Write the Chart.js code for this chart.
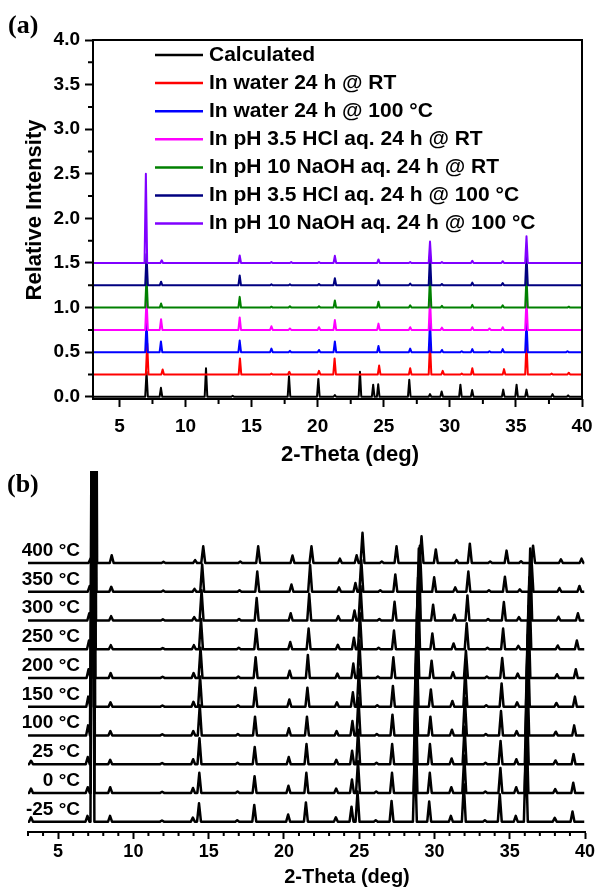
<!DOCTYPE html>
<html lang="en">
<head>
<meta charset="UTF-8" />
<title>PXRD patterns</title>
<script src="https://cdn.jsdelivr.net/npm/chart.js"></script>
<style>
  body { margin: 0; background: #fff; }
  .wrap { position: relative; width: 595px; height: 890px; }
  #chartA { position: absolute; left: 0; top: 0; }
  #chartB { position: absolute; left: 0; top: 460px; }
</style>
</head>
<body>
<div class="wrap">
  <canvas id="chartA" width="595" height="470"></canvas>
  <canvas id="chartB" width="595" height="430"></canvas>
</div>
<script>
// ---------- panel (a): stability in solvents ----------
const seriesNamesA = [
  "Calculated",
  "In water 24 h @ RT",
  "In water 24 h @ 100 °C",
  "In pH 3.5 HCl aq. 24 h @ RT",
  "In pH 10 NaOH aq. 24 h @ RT",
  "In pH 3.5 HCl aq. 24 h @ 100 °C",
  "In pH 10 NaOH aq. 24 h @ 100 °C",
];
const offsetsA = [0, 0.25, 0.5, 0.75, 1.0, 1.25, 1.5];

// [2-theta, height above own baseline]
const peaksCalc = [[7.05,0.28],[8.14,0.1],[11.55,0.32],[13.57,0.012],[17.83,0.23],[20.05,0.2],[21.3,0.02],[23.2,0.28],[24.2,0.135],[24.58,0.14],[26.93,0.19],[28.5,0.03],[29.38,0.06],[30.8,0.135],[31.69,0.075],[34.04,0.08],[35.05,0.135],[35.8,0.08],[37.77,0.03],[38.95,0.015]];
const peaksWaterRT = [[7.1,0.35],[8.27,0.056],[14.12,0.18],[16.5,0.01],[17.85,0.03],[20.1,0.04],[21.28,0.18],[24.65,0.1],[27.0,0.07],[28.5,0.35],[29.46,0.04],[30.9,0.01],[31.7,0.07],[34.1,0.06],[35.8,0.35],[37.7,0.01],[39.0,0.02]];
const peaksWater100 = [[7.05,0.35],[8.14,0.12],[14.1,0.13],[16.5,0.04],[17.9,0.015],[20.1,0.025],[21.3,0.12],[24.6,0.07],[27.0,0.04],[28.5,0.35],[29.4,0.025],[30.9,0.01],[31.7,0.035],[33.0,0.01],[34.0,0.035],[35.8,0.35],[38.9,0.01]];
const peaksHclRT = [[7.05,0.35],[8.15,0.12],[14.1,0.14],[16.5,0.04],[17.9,0.015],[20.1,0.03],[21.3,0.11],[24.6,0.07],[27.0,0.03],[28.5,0.35],[29.4,0.025],[31.7,0.03],[33.0,0.015],[34.0,0.03],[35.8,0.35]];
const peaksNaohRT = [[7.05,0.35],[8.15,0.045],[14.1,0.12],[16.5,0.01],[17.9,0.015],[20.1,0.015],[21.3,0.08],[24.6,0.065],[27.0,0.025],[28.5,0.35],[29.4,0.02],[31.7,0.03],[34.0,0.025],[35.8,0.35],[39.0,0.01]];
const peaksHcl100 = [[7.05,0.35],[8.15,0.04],[14.1,0.11],[16.5,0.01],[17.9,0.01],[20.1,0.015],[21.3,0.08],[24.6,0.055],[27.0,0.02],[28.5,0.35],[29.4,0.015],[31.7,0.03],[34.0,0.025],[35.8,0.35]];
const peaksNaoh100 = [[7.0,1.0],[8.2,0.03],[14.1,0.085],[16.5,0.01],[18.0,0.01],[20.1,0.01],[21.3,0.08],[24.6,0.04],[27.0,0.01],[28.5,0.24],[29.4,0.01],[31.7,0.025],[34.0,0.02],[35.8,0.3]];

const xTicksA = [5, 10, 15, 20, 25, 30, 35, 40];
const xMinorA = [7.5, 12.5, 17.5, 22.5, 27.5, 32.5, 37.5];
const yTicksA = [0, 0.5, 1, 1.5, 2, 2.5, 3, 3.5, 4];
const yMinorA = [0.25, 0.75, 1.25, 1.75, 2.25, 2.75, 3.25, 3.75];

// ---------- panel (b): variable temperature ----------
const tempLabels = ["-25 °C", "0 °C", "25 °C", "100 °C", "150 °C", "200 °C", "250 °C", "300 °C", "350 °C", "400 °C"];
const offsetsB = [0, 1, 2, 3, 4, 5, 6, 7, 8, 9];

const peaksM25 = [[3.2,0.15],[6.95,0.2],[7.28,20],[8.45,0.2],[11.9,0.04],[13.95,0.14],[14.36,0.64],[16.9,0.05],[18.03,0.58],[20.28,0.25],[21.46,0.67],[23.45,0.15],[24.49,0.52],[24.89,1.05],[26.1,0.05],[27.15,0.72],[28.7,2.5],[29.65,0.7],[31.09,0.2],[31.95,1.3],[33.35,0.05],[34.34,0.95],[35.4,0.2],[36.07,2.5],[37.99,0.13],[39.17,0.35]];
const peaks0 = [[3.2,0.15],[6.97,0.2],[7.29,20],[8.46,0.2],[11.91,0.04],[13.96,0.17],[14.38,0.7],[16.92,0.05],[18.05,0.58],[20.3,0.25],[21.49,0.7],[23.47,0.15],[24.52,0.47],[24.92,1.1],[26.13,0.05],[27.18,0.7],[28.74,2.5],[29.69,0.7],[31.12,0.2],[31.98,1.3],[33.38,0.05],[34.38,0.87],[35.43,0.2],[36.11,2.5],[38.02,0.13],[39.22,0.35]];
const peaks25 = [[3.2,0.12],[6.97,0.25],[7.3,20],[8.46,0.15],[11.91,0.04],[13.97,0.17],[14.39,0.9],[16.92,0.05],[18.06,0.6],[20.32,0.25],[21.5,0.7],[23.48,0.15],[24.53,0.47],[24.93,1.2],[26.15,0.05],[27.19,0.7],[28.75,2.5],[29.7,0.7],[31.14,0.2],[32.0,1.3],[33.39,0.05],[34.39,0.81],[35.44,0.17],[36.13,2.5],[38.04,0.13],[39.24,0.35]];
const peaks100 = [[6.99,0.35],[7.31,20],[8.47,0.15],[11.92,0.04],[13.98,0.15],[14.41,1.05],[16.94,0.05],[18.08,0.65],[20.33,0.25],[21.53,0.65],[23.5,0.15],[24.55,0.5],[24.95,1.3],[26.17,0.05],[27.21,0.72],[28.78,2.5],[29.73,0.65],[31.16,0.2],[32.02,1.3],[33.41,0.05],[34.42,0.85],[35.46,0.15],[36.16,2.5],[38.06,0.13],[39.28,0.35]];
const peaks150 = [[7.0,0.35],[7.33,20],[8.48,0.15],[11.93,0.04],[13.99,0.17],[14.43,1.05],[16.95,0.05],[18.1,0.66],[20.36,0.25],[21.56,0.66],[23.52,0.15],[24.58,0.5],[24.98,1.3],[26.2,0.05],[27.24,0.72],[28.81,2.5],[29.76,0.6],[31.19,0.2],[32.05,1.3],[33.44,0.05],[34.46,0.81],[35.49,0.15],[36.2,2.5],[38.1,0.13],[39.33,0.35]];
const peaks200 = [[7.02,0.3],[7.35,20],[8.49,0.17],[11.94,0.04],[14.0,0.17],[14.46,1.05],[16.97,0.05],[18.12,0.72],[20.38,0.25],[21.59,0.8],[23.55,0.15],[24.61,0.5],[25.01,1.3],[26.24,0.05],[27.27,0.72],[28.86,2.5],[29.81,0.6],[31.23,0.2],[32.09,0.95],[33.48,0.05],[34.5,0.69],[35.53,0.15],[36.24,2.5],[38.14,0.13],[39.39,0.3]];
const peaks250 = [[7.05,0.3],[7.37,20],[8.5,0.14],[11.95,0.04],[14.02,0.14],[14.49,1.05],[17.0,0.05],[18.16,0.7],[20.42,0.25],[21.64,0.72],[23.58,0.15],[24.65,0.4],[25.05,1.25],[26.29,0.05],[27.31,0.65],[28.91,2.5],[29.86,0.55],[31.27,0.2],[32.14,0.9],[33.52,0.05],[34.56,0.72],[35.57,0.12],[36.3,2.5],[38.19,0.13],[39.46,0.3]];
const peaks300 = [[7.07,0.25],[7.39,20],[8.52,0.15],[11.96,0.04],[14.04,0.12],[14.53,1.05],[17.02,0.05],[18.19,0.78],[20.45,0.25],[21.68,0.93],[23.61,0.15],[24.69,0.35],[25.09,1.2],[26.34,0.05],[27.35,0.65],[28.96,2.5],[29.91,0.55],[31.32,0.2],[32.19,0.87],[33.56,0.05],[34.61,0.64],[35.61,0.12],[36.36,2.5],[38.24,0.13],[39.53,0.25]];
const peaks350 = [[7.1,0.2],[7.42,20],[8.53,0.17],[11.98,0.04],[14.06,0.1],[14.57,0.95],[17.05,0.05],[18.23,0.7],[20.5,0.25],[21.74,0.93],[23.66,0.15],[24.75,0.3],[25.14,1.1],[26.4,0.05],[27.4,0.6],[29.03,1.6],[29.98,0.5],[31.38,0.15],[32.25,0.7],[33.62,0.05],[34.68,0.52],[35.67,0.08],[36.44,1.2],[38.3,0.13],[39.63,0.2]];
const peaks400 = [[7.15,0.15],[7.46,20],[8.56,0.27],[12.0,0.04],[14.1,0.1],[14.64,0.58],[17.1,0.05],[18.29,0.58],[20.57,0.26],[21.83,0.58],[23.72,0.15],[24.83,0.27],[25.22,1.05],[26.5,0.05],[27.48,0.58],[29.14,0.93],[30.09,0.47],[31.47,0.1],[32.35,0.67],[33.7,0.05],[34.79,0.43],[35.75,0.06],[36.55,0.6],[38.4,0.13],[39.77,0.15]];

const xTicksB = [5, 10, 15, 20, 25, 30, 35, 40];
const xMinorB = [3,4,6,7,8,9,11,12,13,14,16,17,18,19,21,22,23,24,26,27,28,29,31,32,33,34,36,37,38,39];

// ---------- styles ----------
const colorsA = ["#000000", "#ff0000", "#0000ff", "#ff00ff", "#008000", "#000080", "#8000ff"];
const SANS = "'Liberation Sans', Arial, sans-serif";
const SERIF = "'Liberation Serif', 'Times New Roman', serif";

// each peak drawn as a narrow spike standing on the trace baseline
function spikes(peaks, base, halfW, x0, x1) {
  const pts = [{ x: x0, y: base }];
  peaks.forEach(([p, h]) => {
    pts.push({ x: p - halfW, y: base }, { x: p, y: base + h }, { x: p + halfW, y: base });
  });
  pts.push({ x: x1, y: base });
  return pts;
}

function noPad(s) {
  s.paddingLeft = 0; s.paddingRight = 0; s.paddingTop = 0; s.paddingBottom = 0;
}

const decorA = {
  id: "decorA",
  afterDraw(chart) {
    const { ctx, chartArea: a, scales: { x, y } } = chart;
    ctx.save();
    ctx.strokeStyle = "#000";
    ctx.lineWidth = 2;
    ctx.strokeRect(a.left, a.top, a.right - a.left, a.bottom - a.top);
    ctx.beginPath();
    xMinorA.forEach(v => { const px = x.getPixelForValue(v); ctx.moveTo(px, a.bottom); ctx.lineTo(px, a.bottom + 5); });
    yMinorA.forEach(v => { const py = y.getPixelForValue(v); ctx.moveTo(a.left, py); ctx.lineTo(a.left - 5, py); });
    ctx.stroke();

    // legend
    ctx.font = "bold 21px " + SANS;
    ctx.textBaseline = "middle";
    ctx.textAlign = "left";
    chart.data.datasets.forEach((ds, i) => {
      const ly = 55 + i * 28.1;
      ctx.strokeStyle = ds.borderColor;
      ctx.lineWidth = 2.5;
      ctx.beginPath(); ctx.moveTo(155, ly); ctx.lineTo(203, ly); ctx.stroke();
      ctx.fillStyle = "#000";
      ctx.fillText(ds.label, 209, ly);
    });

    // axis titles
    ctx.fillStyle = "#000";
    ctx.font = "bold 22px " + SANS;
    ctx.textAlign = "center";
    ctx.textBaseline = "alphabetic";
    ctx.fillText("2-Theta (deg)", 350, 461);
    ctx.save();
    ctx.translate(41, 210);
    ctx.rotate(-Math.PI / 2);
    ctx.fillText("Relative Intensity", 0, 0);
    ctx.restore();

    ctx.font = "bold 26px " + SERIF;
    ctx.textAlign = "left";
    ctx.fillText("(a)", 8, 33);
    ctx.restore();
  },
};

const decorB = {
  id: "decorB",
  afterDraw(chart) {
    const { ctx, chartArea: a, scales: { x, y } } = chart;
    ctx.save();
    ctx.strokeStyle = "#000";
    ctx.lineWidth = 2;
    ctx.beginPath();
    xMinorB.forEach(v => { const px = x.getPixelForValue(v); ctx.moveTo(px, a.bottom); ctx.lineTo(px, a.bottom + 4); });
    ctx.stroke();

    ctx.fillStyle = "#000";
    ctx.font = "bold 19px " + SANS;
    ctx.textAlign = "right";
    ctx.textBaseline = "alphabetic";
    tempLabels.forEach((t, i) => {
      ctx.fillText(t, 80, y.getPixelForValue(offsetsB[i]) - 7);
    });

    ctx.font = "bold 20px " + SANS;
    ctx.textAlign = "center";
    ctx.fillText("2-Theta (deg)", 347, 423);

    ctx.font = "bold 26px " + SERIF;
    ctx.textAlign = "left";
    ctx.fillText("(b)", 7, 32);
    ctx.restore();
  },
};

const peaksA = [peaksCalc, peaksWaterRT, peaksWater100, peaksHclRT, peaksNaohRT, peaksHcl100, peaksNaoh100];

new Chart(document.getElementById("chartA"), {
  type: "line",
  data: {
    datasets: peaksA.map((pk, i) => ({
      label: seriesNamesA[i],
      data: spikes(pk, offsetsA[i], 0.1, 3, 40),
      borderColor: colorsA[i],
      borderWidth: 2,
      borderJoinStyle: "round",
      pointRadius: 0,
      tension: 0,
      order: peaksA.length - i,
    })),
  },
  options: {
    responsive: false,
    animation: false,
    events: [],
    layout: { padding: { top: 40, right: 13, left: 0, bottom: 0 } },
    plugins: { legend: { display: false }, tooltip: { enabled: false } },
    scales: {
      x: {
        type: "linear",
        min: 3,
        max: 40,
        afterBuildTicks: s => { s.ticks = xTicksA.map(v => ({ value: v })); },
        afterFit: s => { s.height = 71; noPad(s); },
        border: { display: false },
        grid: { drawOnChartArea: false, tickLength: 8, tickWidth: 2, tickColor: "#000" },
        ticks: { color: "#000", font: { family: SANS, size: 19, weight: "bold" }, padding: 8, maxRotation: 0, autoSkip: false },
      },
      y: {
        type: "linear",
        min: -0.025,
        max: 4,
        afterBuildTicks: s => { s.ticks = yTicksA.map(v => ({ value: v })); },
        afterFit: s => { s.width = 93; noPad(s); },
        border: { display: false },
        grid: { drawOnChartArea: false, tickLength: 8, tickWidth: 2, tickColor: "#000" },
        ticks: { color: "#000", font: { family: SANS, size: 19, weight: "bold" }, padding: 5, autoSkip: false, callback: v => Number(v).toFixed(1) },
      },
    },
  },
  plugins: [decorA],
});

const peaksB = [peaksM25, peaks0, peaks25, peaks100, peaks150, peaks200, peaks250, peaks300, peaks350, peaks400];

new Chart(document.getElementById("chartB"), {
  type: "line",
  data: {
    datasets: peaksB.map((pk, i) => ({
      label: tempLabels[i],
      data: spikes(pk, offsetsB[i], 0.13, 3.0, 39.95),
      borderColor: "#000",
      borderWidth: 2.5,
      borderJoinStyle: "round",
      pointRadius: 0,
      tension: 0,
    })),
  },
  options: {
    responsive: false,
    animation: false,
    events: [],
    layout: { padding: { top: 11, right: 10, left: 28, bottom: 0 } },
    plugins: { legend: { display: false }, tooltip: { enabled: false } },
    scales: {
      x: {
        type: "linear",
        min: 3,
        max: 40,
        afterBuildTicks: s => { s.ticks = xTicksB.map(v => ({ value: v })); },
        afterFit: s => { s.height = 58; noPad(s); },
        border: { display: true, color: "#000", width: 2 },
        grid: { drawOnChartArea: false, tickLength: 7, tickWidth: 2, tickColor: "#000" },
        ticks: { color: "#000", font: { family: SANS, size: 18, weight: "bold" }, padding: 2, maxRotation: 0, autoSkip: false },
      },
      y: { type: "linear", display: false, min: -0.36, max: 12.2 },
    },
  },
  plugins: [decorB],
});
</script>
</body>
</html>
